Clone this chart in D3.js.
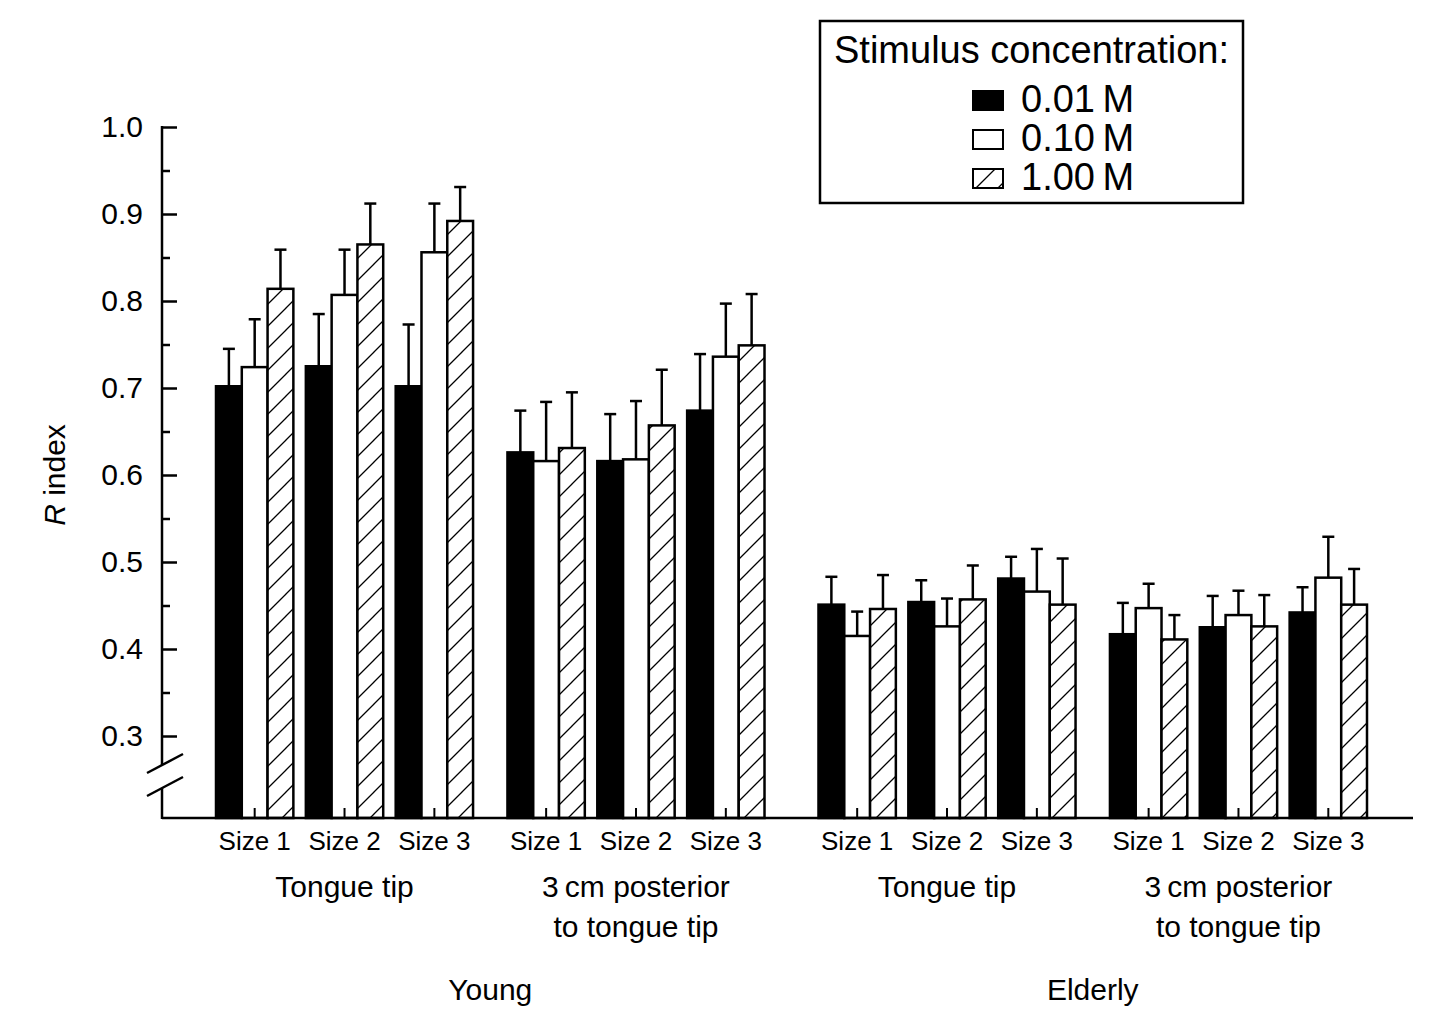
<!DOCTYPE html>
<html>
<head>
    <title>R index by stimulus size and concentration</title>
    <script src="https://d3js.org/d3.v7.min.js"></script>
    <style type="text/css">
        body {
            margin: 0;
            background-color: #fff;
        }

        svg text {
            font-family: "Liberation Sans", Arial, Helvetica, sans-serif;
            fill: #000;
        }
    </style>
</head>
<body>

<div id="chart"></div>

<script type="text/javascript">
    // groups, outer to inner
    const ages = ["Young", "Elderly"];
    const sites = ["Tongue tip", "3\u2009cm posterior to tongue tip"];
    const siteLines = [["Tongue tip"], ["3\u2009cm posterior", "to tongue tip"]];
    const sizes = ["Size 1", "Size 2", "Size 3"];
    const concs = ["0.01\u2009M", "0.10\u2009M", "1.00\u2009M"];

    // means, order: age -> site -> size
    const mean001 = [0.702, 0.725, 0.702, 0.626, 0.616, 0.674, 0.451, 0.454, 0.481, 0.417, 0.425, 0.442];
    const mean010 = [0.724, 0.807, 0.856, 0.616, 0.618, 0.736, 0.415, 0.426, 0.466, 0.447, 0.439, 0.482];
    const mean100 = [0.814, 0.865, 0.892, 0.631, 0.657, 0.749, 0.446, 0.457, 0.451, 0.411, 0.426, 0.451];

    // standard errors (upper bars only)
    const se001 = [0.043, 0.060, 0.071, 0.048, 0.054, 0.065, 0.032, 0.025, 0.025, 0.036, 0.036, 0.029];
    const se010 = [0.055, 0.052, 0.056, 0.068, 0.067, 0.061, 0.028, 0.032, 0.049, 0.028, 0.028, 0.047];
    const se100 = [0.045, 0.047, 0.039, 0.064, 0.064, 0.059, 0.039, 0.039, 0.053, 0.028, 0.036, 0.041];

    const yTicks = [0.3, 0.4, 0.5, 0.6, 0.7, 0.8, 0.9, 1.0];
    const yMinor = [0.35, 0.45, 0.55, 0.65, 0.75, 0.85, 0.95];

    const means = [mean001, mean010, mean100];
    const ses = [se001, se010, se100];

    const rows = [];
    ages.forEach((age, a) => sites.forEach((site, s) => sizes.forEach((size, z) => {
        const i = a * 6 + s * 3 + z;
        concs.forEach((conc, c) => rows.push({ age, site, size, conc, c, value: means[c][i], se: ses[c][i] }));
    })));

    const W = 1444, H = 1031;
    const axisX = 162, baseY = 818, axisEnd = 1413;

    const svg = d3.select("#chart").append("svg")
        .attr("width", W)
        .attr("height", H);

    const defs = svg.append("defs");
    const pat = defs.append("pattern")
        .attr("id", "hatch")
        .attr("patternUnits", "userSpaceOnUse")
        .attr("width", 22)
        .attr("height", 22);
    pat.append("rect").attr("width", 22).attr("height", 22).attr("fill", "#fff");
    pat.append("path")
        .attr("d", "M-2,24 L24,-2 M-11,11 L11,-11 M11,33 L33,11")
        .attr("stroke", "#000")
        .attr("stroke-width", 1.3);

    const fills = ["#000", "#fff", "url(#hatch)"];

    const y = d3.scaleLinear().domain([0.3, 1.0]).range([736, 127]);

    const xAge = d3.scaleBand().domain(ages).range([216, 1367]).paddingInner(0.0896).paddingOuter(0);
    const xSite = d3.scaleBand().domain(sites).range([0, xAge.bandwidth()]).paddingInner(0.118).paddingOuter(0);
    const xSize = d3.scaleBand().domain(sizes).range([0, xSite.bandwidth()]).paddingInner(0.139).paddingOuter(0);
    const xConc = d3.scaleBand().domain(concs).range([0, xSize.bandwidth()]).padding(0);

    const clusterX = d => xAge(d.age) + xSite(d.site) + xSize(d.size);
    const barX = d => clusterX(d) + xConc(d.conc);

    // bars
    svg.append("g")
        .selectAll("rect")
        .data(rows)
        .join("rect")
        .attr("x", barX)
        .attr("y", d => y(d.value))
        .attr("width", xConc.bandwidth())
        .attr("height", d => baseY - y(d.value))
        .attr("fill", d => fills[d.c])
        .attr("stroke", "#000")
        .attr("stroke-width", 2.5);

    // error bars
    const eb = svg.append("g")
        .attr("stroke", "#000")
        .attr("stroke-width", 2.5);
    eb.selectAll("line.v")
        .data(rows)
        .join("line")
        .attr("class", "v")
        .attr("x1", d => barX(d) + xConc.bandwidth() / 2)
        .attr("x2", d => barX(d) + xConc.bandwidth() / 2)
        .attr("y1", d => y(d.value))
        .attr("y2", d => y(d.value + d.se));
    eb.selectAll("line.cap")
        .data(rows)
        .join("line")
        .attr("class", "cap")
        .attr("x1", d => barX(d) + xConc.bandwidth() / 2 - 6)
        .attr("x2", d => barX(d) + xConc.bandwidth() / 2 + 6)
        .attr("y1", d => y(d.value + d.se))
        .attr("y2", d => y(d.value + d.se));

    // x axis line and small inward ticks at cluster centres
    const clusters = rows.filter(d => d.c === 0);
    svg.append("line")
        .attr("x1", axisX).attr("x2", axisEnd)
        .attr("y1", baseY).attr("y2", baseY)
        .attr("stroke", "#000").attr("stroke-width", 2.5);
    svg.append("g")
        .selectAll("line")
        .data(clusters)
        .join("line")
        .attr("x1", d => clusterX(d) + xSize.bandwidth() / 2)
        .attr("x2", d => clusterX(d) + xSize.bandwidth() / 2)
        .attr("y1", baseY)
        .attr("y2", baseY - 10)
        .attr("stroke", "#000").attr("stroke-width", 2);

    // y axis
    const yAxis = svg.append("g")
        .attr("transform", `translate(${axisX},0)`)
        .call(d3.axisLeft(y).tickValues(yTicks).tickFormat(d3.format(".1f"))
            .tickSizeInner(-15).tickSizeOuter(0).tickPadding(19));
    yAxis.select(".domain").remove();
    yAxis.selectAll("line").attr("stroke-width", 2.5);
    yAxis.selectAll("text").attr("font-size", 30).attr("font-family", null);

    const yAxisMinor = svg.append("g")
        .attr("transform", `translate(${axisX},0)`)
        .call(d3.axisLeft(y).tickValues(yMinor).tickFormat("")
            .tickSizeInner(-8).tickSizeOuter(0));
    yAxisMinor.select(".domain").remove();
    yAxisMinor.selectAll("line").attr("stroke-width", 2.5);

    // axis line with break
    const breakTop = 765, breakBot = 788;
    svg.append("line")
        .attr("x1", axisX).attr("x2", axisX)
        .attr("y1", y(1.0) - 1).attr("y2", breakTop)
        .attr("stroke", "#000").attr("stroke-width", 2.5);
    svg.append("line")
        .attr("x1", axisX).attr("x2", axisX)
        .attr("y1", breakBot).attr("y2", baseY + 1)
        .attr("stroke", "#000").attr("stroke-width", 2.5);
    [breakTop, breakBot].forEach(by => {
        svg.append("line")
            .attr("x1", axisX - 15).attr("y1", by + 8)
            .attr("x2", axisX + 21).attr("y2", by - 11)
            .attr("stroke", "#000").attr("stroke-width", 2.5);
    });

    // y title
    const yTitle = svg.append("text")
        .attr("transform", "translate(65,475) rotate(-90)")
        .attr("text-anchor", "middle")
        .attr("font-size", 30);
    yTitle.append("tspan").attr("font-style", "italic").text("R");
    yTitle.append("tspan").text(" index");

    // size labels
    svg.append("g")
        .selectAll("text")
        .data(clusters)
        .join("text")
        .attr("x", d => clusterX(d) + xSize.bandwidth() / 2)
        .attr("y", 850)
        .attr("text-anchor", "middle")
        .attr("font-size", 26)
        .text(d => d.size);

    // site labels
    ages.forEach(age => sites.forEach((site, s) => {
        const cx = xAge(age) + xSite(site) + xSite.bandwidth() / 2;
        siteLines[s].forEach((line, k) => {
            svg.append("text")
                .attr("x", cx)
                .attr("y", 897 + k * 40)
                .attr("text-anchor", "middle")
                .attr("font-size", 30)
                .text(line);
        });
    }));

    // age labels
    svg.append("g")
        .selectAll("text")
        .data(ages)
        .join("text")
        .attr("x", d => xAge(d) + xAge.bandwidth() / 2)
        .attr("y", 1000)
        .attr("text-anchor", "middle")
        .attr("font-size", 30)
        .text(d => d);

    // legend
    const lg = svg.append("g");
    lg.append("rect")
        .attr("x", 820).attr("y", 21)
        .attr("width", 423).attr("height", 182)
        .attr("fill", "#fff").attr("stroke", "#000").attr("stroke-width", 2.5);
    lg.append("text")
        .attr("x", 834).attr("y", 63)
        .attr("font-size", 38)
        .text("Stimulus concentration:");
    const items = lg.selectAll("g.item")
        .data(concs)
        .join("g")
        .attr("class", "item")
        .attr("transform", (d, i) => `translate(973,${91 + i * 39})`);
    items.append("rect")
        .attr("width", 30).attr("height", 19)
        .attr("fill", (d, i) => fills[i])
        .attr("stroke", "#000").attr("stroke-width", 2);
    items.append("text")
        .attr("x", 48).attr("y", 21)
        .attr("font-size", 38)
        .text(d => d);
</script>

</body>
</html>
